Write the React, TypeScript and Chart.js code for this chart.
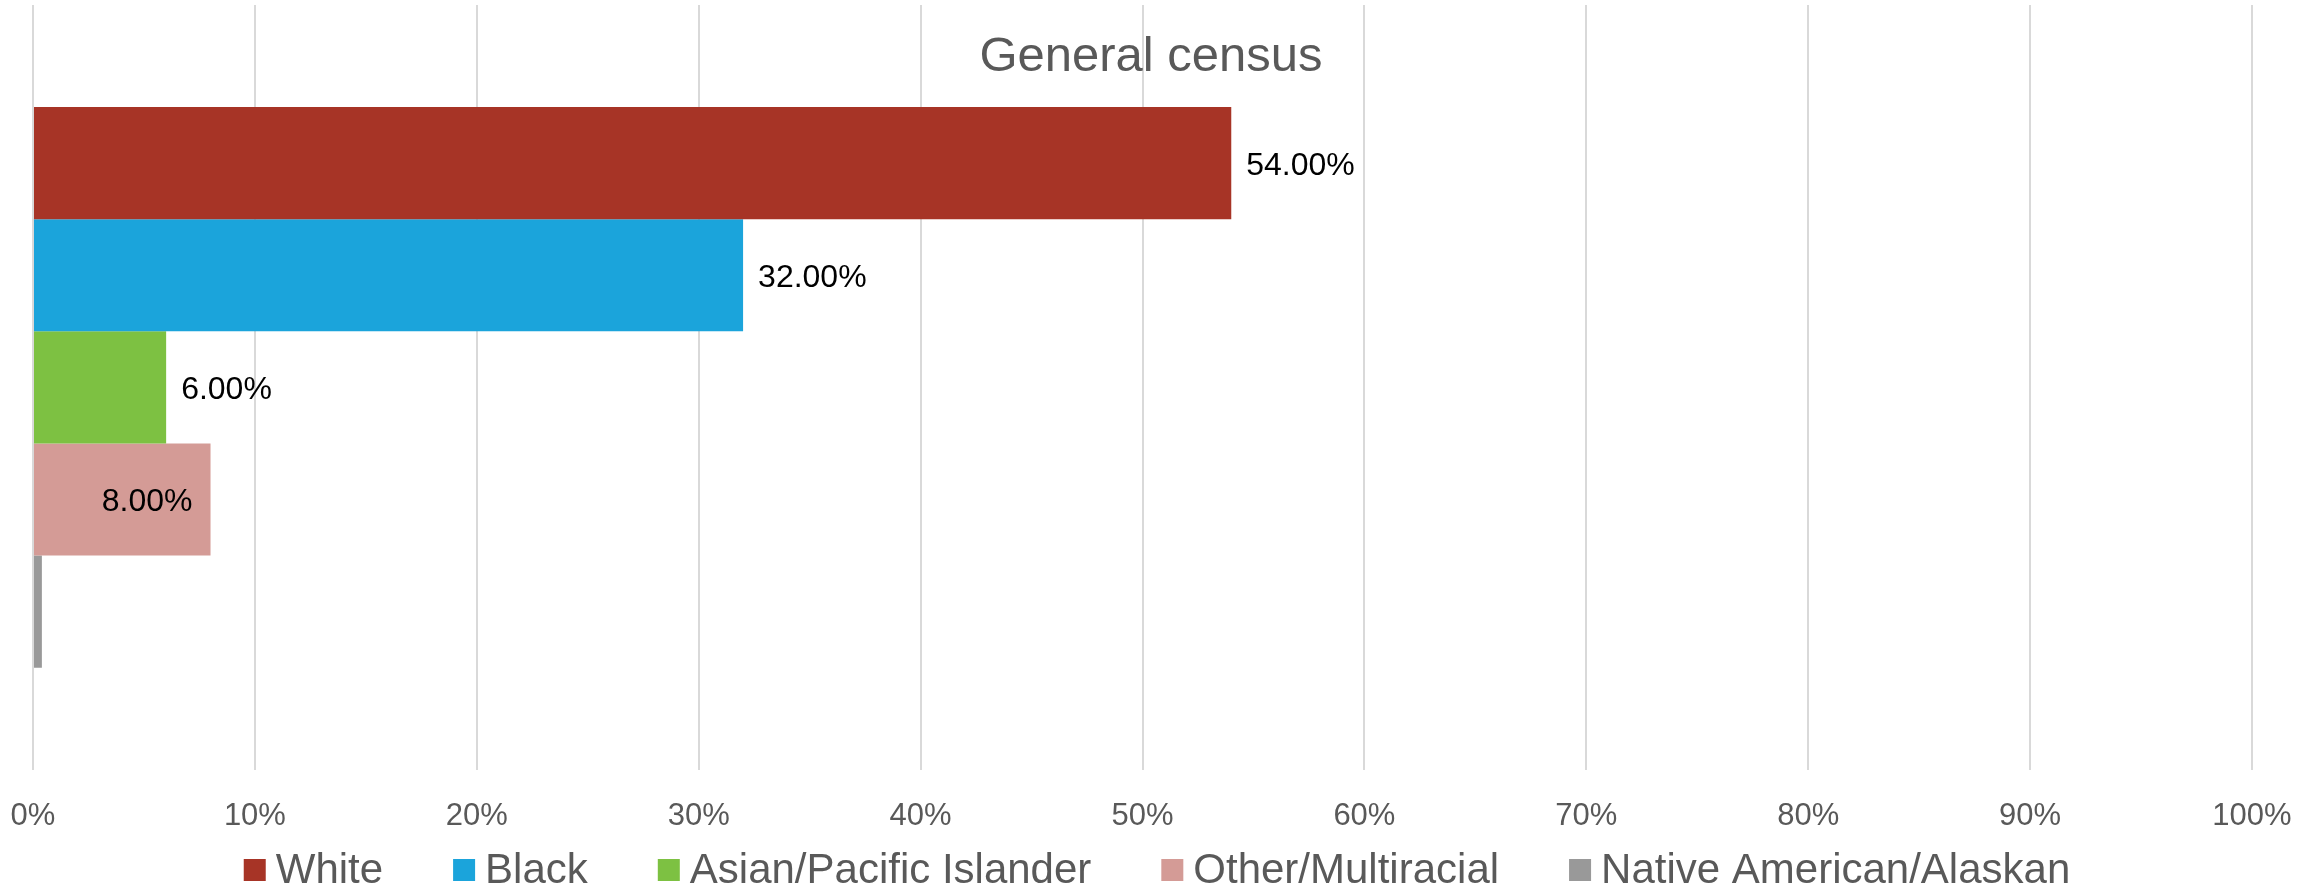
import React, { useEffect, useRef } from 'react';
import { Chart, registerables } from 'chart.js';

Chart.register(...registerables);

const chartTitle = 'General census';
const categories = ['General census'];
const seriesNames = ['White', 'Black', 'Asian/Pacific Islander', 'Other/Multiracial', 'Native American/Alaskan'];
const seriesValues = [54, 32, 6, 8, 0.4];
const seriesColors = ['#A73426', '#1BA4DB', '#7DC142', '#D49B96', '#999999'];
const labelPlacement = ['outside', 'outside', 'outside', 'inside', 'none'];
const xTickMin = 0;
const xTickMax = 100;
const xTickStep = 10;

const FONT = '"Liberation Sans", Arial, sans-serif';

const overlayPlugin = {
  id: 'overlay',
  afterDatasetsDraw(chart: any) {
    const ctx = chart.ctx;
    ctx.save();
    // data labels
    ctx.font = `32px ${FONT}`;
    ctx.fillStyle = '#000000';
    ctx.textBaseline = 'alphabetic';
    chart.data.datasets.forEach((ds: any, i: number) => {
      const meta = chart.getDatasetMeta(i);
      const el = meta.data[0];
      if (!el) return;
      const place = labelPlacement[i];
      if (place === 'none') return;
      const text = Number(ds.data[0]).toFixed(2) + '%';
      const y = el.y + 11.5;
      if (place === 'outside') {
        ctx.textAlign = 'left';
        ctx.fillText(text, el.x + 15, y);
      } else {
        ctx.textAlign = 'right';
        ctx.fillText(text, el.x - 18, y);
      }
    });
    ctx.restore();
  },
  afterDraw(chart: any) {
    const ctx = chart.ctx;
    const W = chart.width;
    const cx = W / 2 - 9;
    ctx.save();
    // title
    ctx.font = `49px ${FONT}`;
    ctx.fillStyle = '#595959';
    ctx.textAlign = 'center';
    ctx.textBaseline = 'alphabetic';
    ctx.fillText(chartTitle, cx, 71);
    // legend
    ctx.font = `42px ${FONT}`;
    const box = 22, gap = 10, itemGap = 70;
    const names = chart.data.datasets.map((d: any) => d.label);
    const widths = names.map((n: string) => ctx.measureText(n).width);
    const total = widths.reduce((a: number, w: number) => a + w, 0) + names.length * (box + gap) + (names.length - 1) * itemGap;
    let x = cx - total / 2 + 6;
    ctx.textAlign = 'left';
    names.forEach((n: string, i: number) => {
      ctx.fillStyle = chart.data.datasets[i].backgroundColor;
      ctx.fillRect(x, 859, box, box);
      ctx.fillStyle = '#595959';
      ctx.fillText(n, x + box + gap, 883);
      x += box + gap + widths[i] + itemGap;
    });
    ctx.restore();
  },
};

export default function App() {
  const ref = useRef<HTMLCanvasElement | null>(null);
  useEffect(() => {
    document.body.style.margin = '0';
    document.body.style.overflow = 'hidden';
    const canvas = ref.current;
    if (!canvas) return;
    const chart = new Chart(canvas, {
      type: 'bar',
      data: {
        labels: categories,
        datasets: seriesNames.map((name, i) => ({
          label: name,
          data: [seriesValues[i]],
          backgroundColor: seriesColors[i],
          borderWidth: 0,
          categoryPercentage: 0.733,
          barPercentage: 1,
        })),
      },
      options: {
        indexAxis: 'y',
        responsive: false,
        animation: false,
        devicePixelRatio: 1,
        layout: { padding: { top: 5, left: 33, right: 68, bottom: 54 } },
        plugins: {
          legend: { display: false },
          title: { display: false },
          tooltip: { enabled: false },
        },
        scales: {
          x: {
            type: 'linear',
            min: xTickMin,
            max: xTickMax,
            position: 'bottom',
            border: { display: false },
            grid: { color: '#D9D9D9', lineWidth: 2, drawTicks: true, tickLength: 28, tickColor: 'rgba(0,0,0,0)' },
            ticks: {
              stepSize: xTickStep,
              padding: 0,
              color: '#595959',
              font: { family: FONT, size: 31 },
              maxRotation: 0,
              callback: (v: any) => `${v}%`,
            },
          },
          y: {
            type: 'category',
            display: false,
            grid: { display: false },
          },
        },
      },
      plugins: [overlayPlugin],
    });
    return () => chart.destroy();
  }, []);
  return (
    <div style={{ width: 2320, height: 889, background: '#ffffff' }}>
      <canvas ref={ref} width={2320} height={889} style={{ display: 'block', width: 2320, height: 889 }} />
    </div>
  );
}
